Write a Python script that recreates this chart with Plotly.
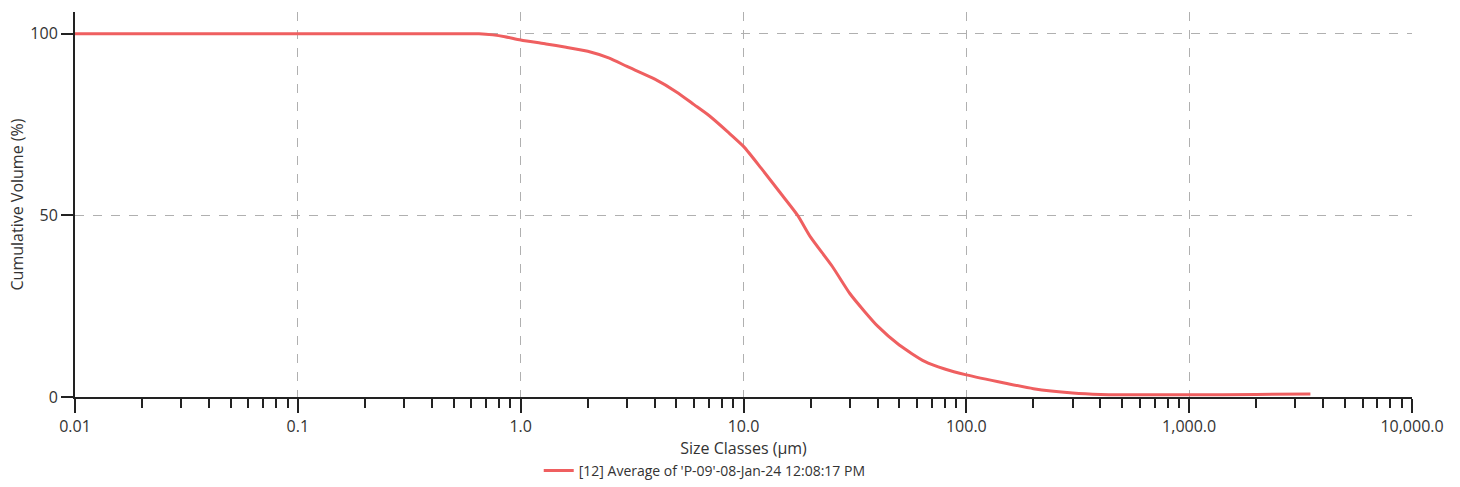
import plotly.graph_objects as go

# Data (size in µm, cumulative volume in %)
sizes = [0.01, 0.1, 0.3, 0.5, 0.65, 0.75, 0.85, 1.0, 1.3, 1.6, 2.0, 2.5, 3.0, 4.0, 5.0,
         6.0, 7.0, 8.5, 10.0, 12.0, 14.5, 17.5, 20.0, 25.0, 30.0, 35.0, 40.0, 50.0, 65.0,
         80.0, 100.0, 150.0, 200.0, 300.0, 400.0, 600.0, 1000.0, 2000.0, 3500.0]
cum_volume = [100, 100, 100, 100, 100, 99.7, 99.2, 98.3, 97.2, 96.3, 95.2, 93.3, 91.0,
              87.5, 84.0, 80.5, 77.5, 73.0, 69.0, 63.0, 56.5, 50.0, 44.0, 36.0, 28.5,
              23.5, 19.5, 14.3, 9.8, 7.7, 6.1, 3.8, 2.3, 1.1, 0.7, 0.6, 0.6, 0.7, 0.8]

x_tickvals = [0.01, 0.1, 1, 10, 100, 1000, 10000]
x_ticktext = ["0.01", "0.1", "1.0", "10.0", "100.0", "1,000.0", "10,000.0"]
y_tickvals = [0, 50, 100]
minor_digits = [2, 3, 4, 5, 6, 7, 8, 9]

series_name = "[12] Average of 'P-09'-08-Jan-24 12:08:17 PM"

x_minor = [d * m for d in x_tickvals[:-1] for m in minor_digits]

fig = go.Figure()
fig.add_trace(go.Scatter(
    x=sizes, y=cum_volume, mode="lines", name=series_name,
    line=dict(color="#ef5f60", width=3, shape="spline", smoothing=0.6),
))

font_family = "Open Sans, Noto Sans, DejaVu Sans, sans-serif"
axis_col = "#222222"
grid_col = "#b0b0b0"

fig.update_layout(
    width=1460, height=487,
    margin=dict(l=75, r=48, t=12, b=90, autoexpand=False),
    paper_bgcolor="white", plot_bgcolor="white",
    font=dict(family=font_family, size=16, color="#333333"),
    showlegend=True,
    legend=dict(orientation="h", x=0.471, xanchor="center", y=-0.2338, yanchor="bottom",
                font=dict(size=14, color="#333333"), itemwidth=30,
                bgcolor="rgba(0,0,0,0)"),
    xaxis=dict(
        type="log", range=[-2, 4],
        tickmode="array", tickvals=x_tickvals, ticktext=x_ticktext,
        ticks="outside", ticklen=14, tickwidth=2, tickcolor=axis_col,
        showline=True, linecolor=axis_col, linewidth=2,
        showgrid=True, gridcolor=grid_col, griddash="dash", gridwidth=1,
        zeroline=False,
        minor=dict(tickmode="array", tickvals=x_minor, ticks="outside", ticklen=9,
                   tickwidth=2, tickcolor=axis_col, showgrid=False),
        title=dict(text="Size Classes (µm)", standoff=7, font=dict(size=16)),
        tickfont=dict(size=16, color="#333333"),
        automargin=False,
    ),
    yaxis=dict(
        range=[0, 106],
        tickmode="array", tickvals=y_tickvals,
        ticks="outside", ticklen=12, tickwidth=2, tickcolor=axis_col,
        showline=True, linecolor=axis_col, linewidth=2,
        showgrid=True, gridcolor=grid_col, griddash="dash", gridwidth=1,
        zeroline=False,
        title=dict(text="Cumulative Volume (%)", standoff=3, font=dict(size=16)),
        tickfont=dict(size=16, color="#333333"),
        automargin=False,
    ),
)

fig.write_html("out.html")
